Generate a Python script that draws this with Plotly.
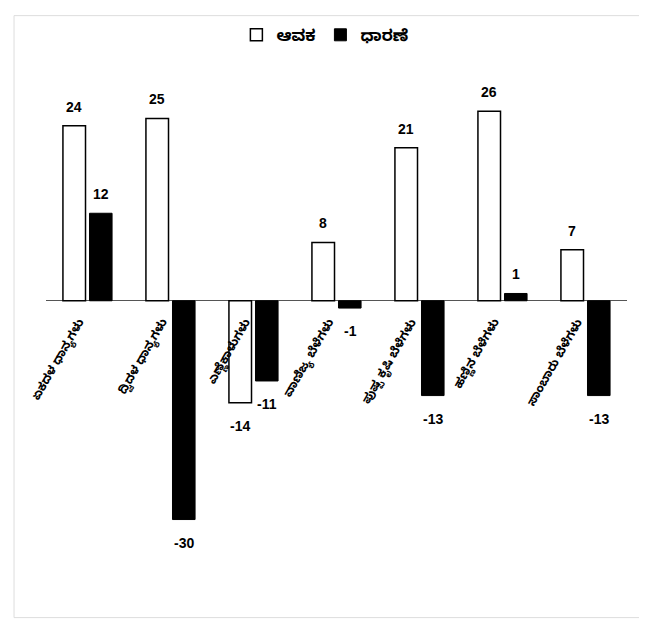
import plotly.graph_objects as go

categories = ["ಏಕದಳ ಧಾನ್ಯಗಳು", "ದ್ವಿದಳ ಧಾನ್ಯಗಳು", "ಎಣ್ಣೆಕಾಳುಗಳು", "ವಾಣಿಜ್ಯ ಬೆಳೆಗಳು",
              "ಪುಷ್ಪ ಕೃಷಿ ಬೆಳೆಗಳು", "ಹಣ್ಣಿನ ಬೆಳೆಗಳು", "ಸಾಂಬಾರು ಬೆಳೆಗಳು"]
series_names = ["ಆವಕ", "ಧಾರಣೆ"]
arrivals = [24, 25, -14, 8, 21, 26, 7]
prices = [12, -30, -11, -1, -13, 1, -13]

label_font = dict(family="Liberation Sans, Arial, sans-serif", size=14, color="black", weight="bold")

fig = go.Figure()
fig.add_trace(go.Bar(
    x=categories, y=arrivals, name=series_names[0],
    marker=dict(color="white", line=dict(color="black", width=1.5)),
))
fig.add_trace(go.Bar(
    x=categories, y=prices, name=series_names[1],
    marker=dict(color="black", line=dict(color="black", width=1)),
))

annotations = []
for c in categories:
    annotations.append(dict(
        x=c, y=0, xref="x", yref="y", text=c, showarrow=False,
        textangle=-60, xanchor="right", yanchor="top", yshift=-13, xshift=5,
        font=dict(family="Noto Sans Kannada, Noto Sans, sans-serif", size=12, color="black", weight="bold"),
    ))

# value labels, offset to the left/right bar of each group
for values, dx in ((arrivals, -13.5), (prices, 13.5)):
    for c, v in zip(categories, values):
        annotations.append(dict(
            x=c, y=v, xref="x", yref="y", text=str(v), showarrow=False,
            xanchor="center", yanchor="middle", xshift=dx,
            yshift=19 if v >= 0 else -23, font=label_font,
        ))

fig.update_layout(
    width=647, height=619,
    paper_bgcolor="white", plot_bgcolor="white",
    margin=dict(l=37.5, r=27.5, t=74, b=70.5, autoexpand=False),
    barmode="group", bargap=0.36, bargroupgap=0.15,
    showlegend=True,
    legend=dict(orientation="h", x=0.48, xanchor="center", xref="paper", y=0.984, yref="container",
                yanchor="top",
                font=dict(family="Noto Sans Kannada, Noto Sans, sans-serif", size=16, color="black", weight="bold"),
                traceorder="normal"),
    annotations=annotations,
    xaxis=dict(range=[-0.5, len(categories) - 0.5], showticklabels=False, showgrid=False,
               zeroline=False, showline=False, ticks=""),
    yaxis=dict(range=[-35, 30], showticklabels=False, showgrid=False, zeroline=True,
               zerolinecolor="#555555", zerolinewidth=1, showline=False),
    shapes=[dict(type="rect", xref="paper", yref="paper", x0=-0.055, x1=1.03, y0=-0.13, y1=1.14,
                 line=dict(color="#dddddd", width=1))],
)

fig.write_html("out.html")
